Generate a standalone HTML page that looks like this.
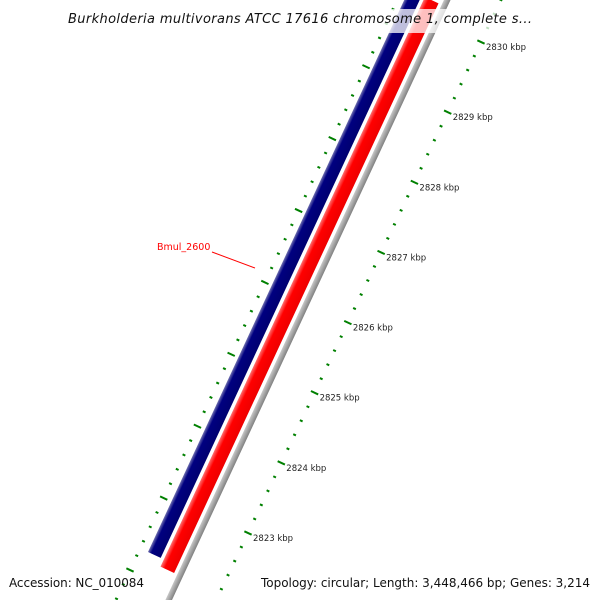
<!DOCTYPE html>
<html><head><meta charset="utf-8"><style>body{margin:0;background:#fff}svg{display:block}</style></head>
<body>
<svg id="chart" width="600" height="600" viewBox="0 0 600 600" xmlns="http://www.w3.org/2000/svg">
<defs>
<linearGradient id="gBlue" x1="0" y1="0" x2="1" y2="0"><stop offset="0" stop-color="#7070b0"/><stop offset="0.25" stop-color="#000080"/><stop offset="1" stop-color="#000070"/></linearGradient>
<linearGradient id="gRed" x1="0" y1="0" x2="1" y2="0"><stop offset="0" stop-color="#ff7070"/><stop offset="0.3" stop-color="#ff0000"/><stop offset="1" stop-color="#ee0000"/></linearGradient>
<linearGradient id="gGray" x1="0" y1="0" x2="1" y2="0"><stop offset="0" stop-color="#c8c8c8"/><stop offset="1" stop-color="#808080"/></linearGradient>
</defs>
<g transform="translate(148,552) rotate(24.9)">
<rect x="0" y="-620" width="14" height="620" fill="url(#gBlue)"/>
<rect x="17.5" y="-620" width="15" height="628" fill="url(#gRed)"/>
<rect x="36" y="-640" width="6" height="700" fill="url(#gGray)"/>
</g>
<g id="ticks"></g>
<line x1="212" y1="252" x2="255" y2="268" stroke="#ff0000" stroke-width="1"/>
<text x="157" y="250" font-family="DejaVu Sans, sans-serif" font-size="9.5" fill="#ff0000">Bmul_2600</text>
<rect x="0" y="9" width="600" height="24" fill="#fff" opacity="0.75"/>
<text x="300" y="23" text-anchor="middle" font-family="DejaVu Sans, sans-serif" font-style="italic" font-size="13" textLength="464" fill="#111">Burkholderia multivorans ATCC 17616 chromosome 1, complete s...</text>
<text x="9" y="587" font-family="DejaVu Sans, sans-serif" font-size="12" textLength="135" fill="#111">Accession: NC_010084</text>
<text x="590" y="587" text-anchor="end" font-family="DejaVu Sans, sans-serif" font-size="12" textLength="329" fill="#111">Topology: circular; Length: 3,448,466 bp; Genes: 3,214</text>
</svg>
<script>
const kbpLabels = [2823, 2824, 2825, 2826, 2827, 2828, 2829, 2830];
const minorStep = 0.2;
const innerMajorCount = 9;
const NS = 'http://www.w3.org/2000/svg';
const g = document.getElementById('ticks');
// outer axis: kbp -> position
function outerY(k){ return 533 - (k - 2823) * 70.14; }
function outerX(y){ return 248 + (533 - y) * 0.4745; }
function innerY(j){ return 570 - j * 71.9; }
function innerX(y){ return 130 + (570 - y) * 0.469; }
const nx = 0.906, ny = 0.424;
function tick(x, y, len, name){
  const l = document.createElementNS(NS, 'line');
  l.setAttribute('x1', x - nx*len/2); l.setAttribute('y1', y - ny*len/2);
  l.setAttribute('x2', x + nx*len/2); l.setAttribute('y2', y + ny*len/2);
  l.setAttribute('stroke', '#008000'); l.setAttribute('stroke-width', '2');
  
  
  g.appendChild(l);
}
for (let k = 2822; k <= 2831.01; k += minorStep) {
  const kr = Math.round(k*10)/10;
  const y = outerY(kr); if (y < -5 || y > 605) continue;
  const major = Math.abs(kr - Math.round(kr)) < 0.01;
  tick(outerX(y), y, major ? 8 : 3, major ? 'outer-major-tick' : 'outer-minor-tick');
}
kbpLabels.forEach(k => {
  const y = outerY(k);
  const t = document.createElementNS(NS, 'text');
  t.setAttribute('x', outerX(y) + 5); t.setAttribute('y', y + 8);
  t.setAttribute('font-family', 'DejaVu Sans, sans-serif'); t.setAttribute('font-size', '8.5'); t.setAttribute('fill', '#222');
  
  
  t.textContent = k + ' kbp';
  g.appendChild(t);
});
for (let s = -5; s <= innerMajorCount * 5; s++) {
  const y = innerY(s / 5); if (y < -5 || y > 605) continue;
  const major = s % 5 === 0;
  tick(innerX(y), y, major ? 8 : 3, major ? 'inner-major-tick' : 'inner-minor-tick');
}
</script>
</body></html>
